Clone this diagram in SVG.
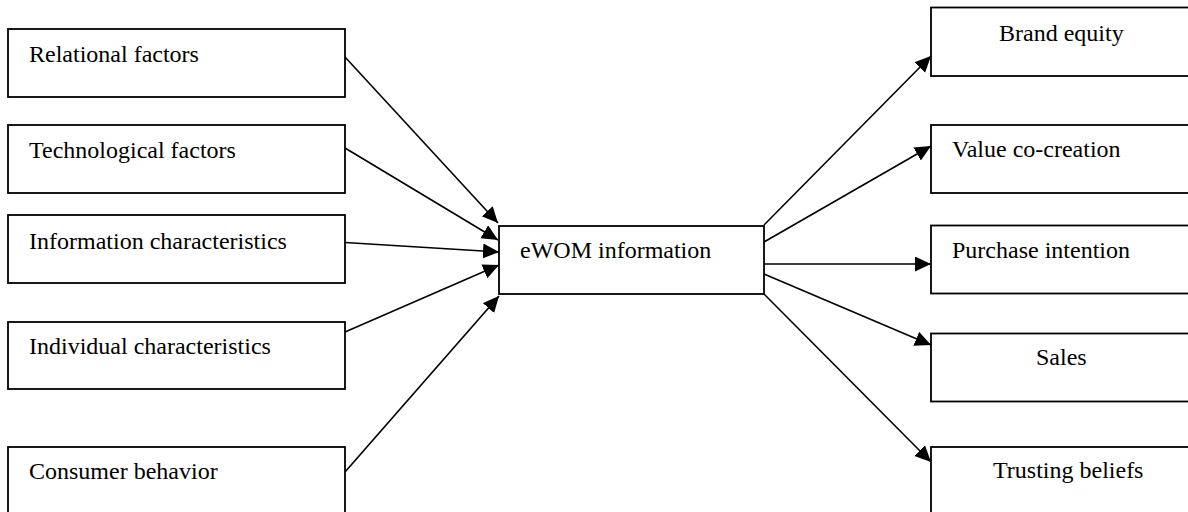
<svg xmlns="http://www.w3.org/2000/svg" width="1188" height="512" viewBox="0 0 1188 512">
<style>
.box{fill:#fff;stroke:#000;stroke-width:1.8}
.t{font-family:"Liberation Serif","Times New Roman",serif;font-size:24px;fill:#000}
.c{stroke:#000;stroke-width:1.6;fill:none;marker-end:url(#ah)}
</style>
<defs>
<marker id="ah" markerUnits="userSpaceOnUse" markerWidth="18" markerHeight="16" refX="16" refY="7.5" orient="auto">
<path d="M0,0 L16,7.5 L0,15 z" fill="#000"/>
</marker>
</defs>
<rect width="1188" height="512" fill="#fff"/>
<g id="connectors">
<line class="c" x1="345" y1="57" x2="498" y2="223"/>
<line class="c" x1="345" y1="148" x2="498" y2="240"/>
<line class="c" x1="345" y1="242.5" x2="499" y2="252"/>
<line class="c" x1="345" y1="332" x2="499" y2="265"/>
<line class="c" x1="345" y1="472" x2="499" y2="296"/>
<line class="c" x1="764" y1="225" x2="931" y2="56"/>
<line class="c" x1="764" y1="242" x2="931" y2="146"/>
<line class="c" x1="764" y1="264" x2="931" y2="264"/>
<line class="c" x1="764" y1="274" x2="931" y2="345"/>
<line class="c" x1="764" y1="294" x2="931" y2="462"/>
</g>
<g id="relational"><rect class="box" x="8" y="29" width="337" height="68"/><text class="t" x="29" y="62">Relational factors</text></g>
<g id="technological"><rect class="box" x="8" y="125" width="337" height="68"/><text class="t" x="29" y="158">Technological factors</text></g>
<g id="information"><rect class="box" x="8" y="215" width="337" height="68"/><text class="t" x="29" y="249">Information characteristics</text></g>
<g id="individual"><rect class="box" x="8" y="322" width="337" height="67"/><text class="t" x="29" y="354">Individual characteristics</text></g>
<g id="consumer"><rect class="box" x="8" y="447" width="337" height="70"/><text class="t" x="29" y="479">Consumer behavior</text></g>
<g id="ewom"><rect class="box" x="499" y="226" width="265" height="68"/><text class="t" x="520" y="258">eWOM information</text></g>
<g id="brand"><rect class="box" x="931" y="7.5" width="262" height="68.5"/><text class="t" x="999" y="41">Brand equity</text></g>
<g id="value"><rect class="box" x="931" y="125" width="262" height="68"/><text class="t" x="952" y="157">Value co-creation</text></g>
<g id="purchase"><rect class="box" x="931" y="225.5" width="262" height="68"/><text class="t" x="952" y="258">Purchase intention</text></g>
<g id="sales"><rect class="box" x="931" y="333.5" width="262" height="68"/><text class="t" x="1036" y="365">Sales</text></g>
<g id="trusting"><rect class="box" x="931" y="447" width="262" height="70"/><text class="t" x="993" y="478">Trusting beliefs</text></g>
</svg>
